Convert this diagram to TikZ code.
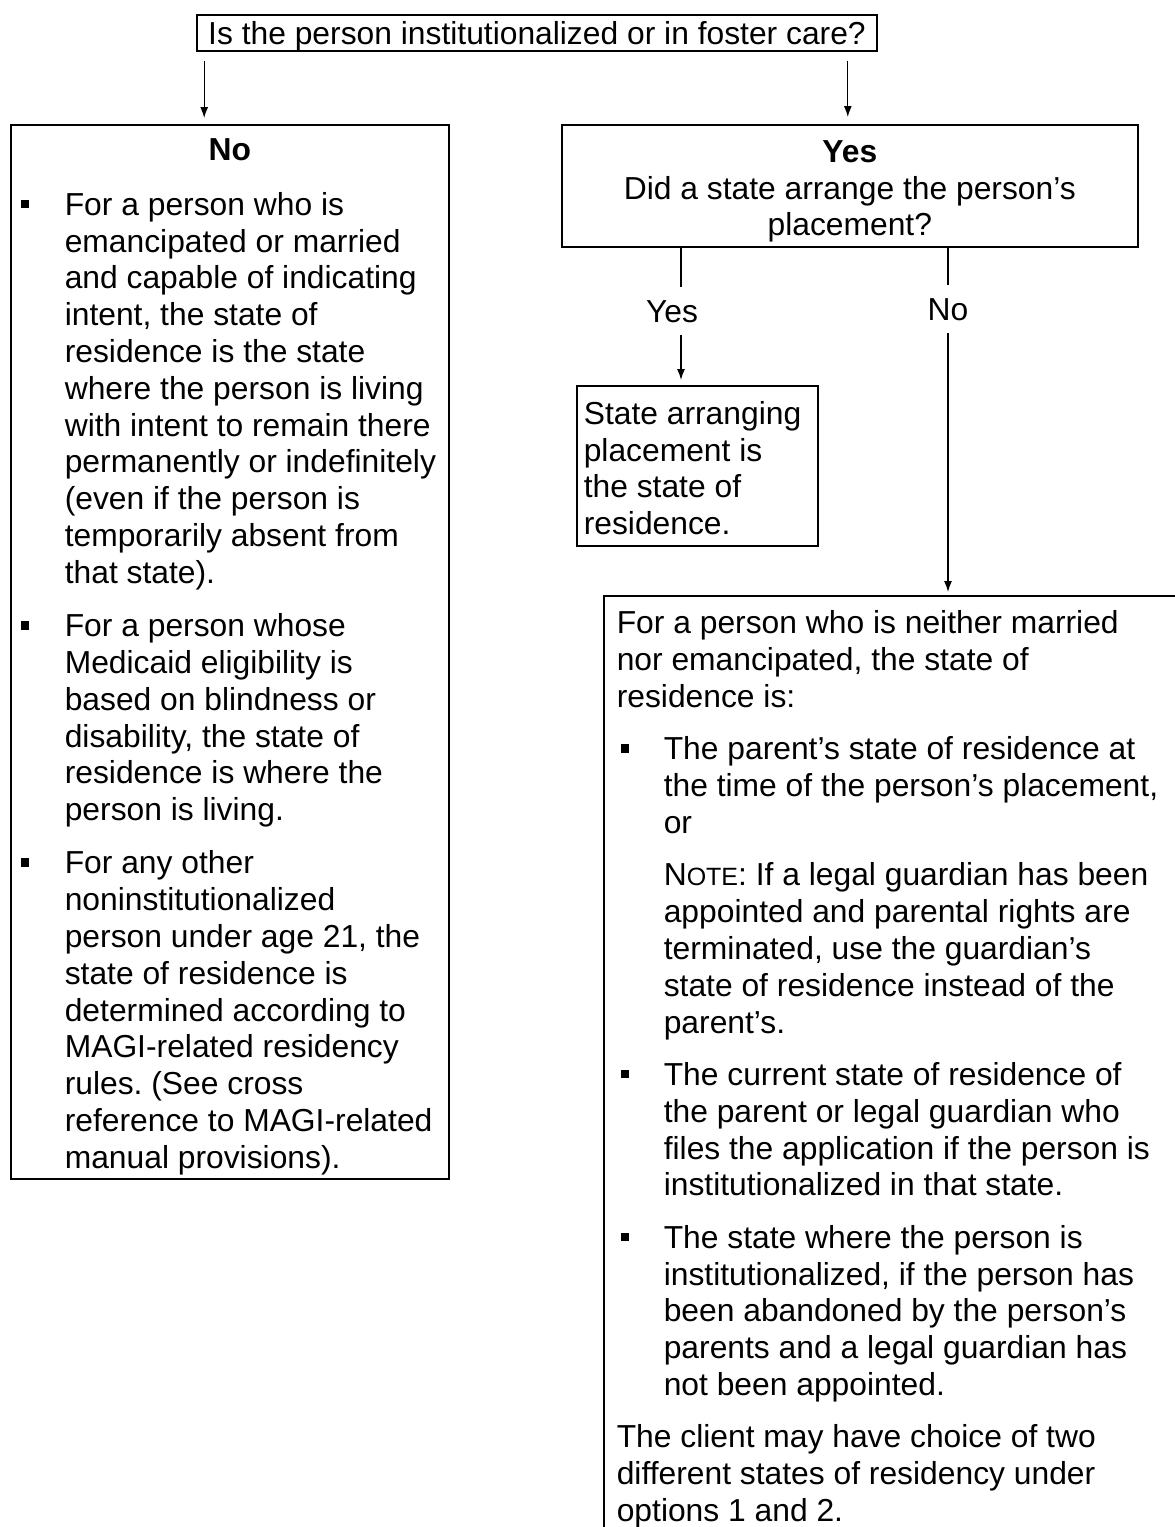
\documentclass[tikz,border=0pt]{standalone}
\usepackage{fontspec}
\setmainfont{Liberation Sans}
\usetikzlibrary{arrows.meta}
\frenchspacing
\newcommand\sqb{\rule[7pt]{8.5pt}{8.5pt}}
\newcommand\bitem[2]{\hangindent=#2\relax\hangafter=1\relax\noindent\makebox[#2][l]{\hspace*{#1}\sqb}\ignorespaces}
\newcommand\firstln[1]{\rule{0pt}{#1}}
\newcommand\nl{\newline}
\newcommand\bodyfont{\fontsize{31.8}{36.8}\selectfont\frenchspacing}
\newcommand\fakesc[1]{{\fontsize{25}{36.8}\selectfont #1}}
\tikzset{
  box/.style={draw, line width=1.6pt, inner ysep=0pt, anchor=north west},
  lbl/.style={inner xsep=2pt, inner ysep=9pt, text height=26.5pt, text depth=3.5pt},
  arr/.style={line width=1.3pt, -{Latex[length=11pt,width=8pt]}},
  ln/.style={line width=1.3pt},
}
\begin{document}
\begin{tikzpicture}[x=1pt,y=-1pt,font=\bodyfont]
\path[use as bounding box] (0,0) rectangle (1175,1527);
\clip (0,0) rectangle (1175,1527);

% question
\node[draw, line width=1.6pt, inner sep=0pt, minimum width=680pt, minimum height=36pt,
      text height=26.5pt, text depth=3.5pt] (q) at (537,33)
      {Is the person institutionalized or in foster care?};

% No box
\node[box, inner xsep=10pt] (no) at (10,124) {\parbox[c][1054pt][t]{418pt}{\bodyfont\parindent=0pt\rightskip=-16pt\relax
{\centering\bfseries\firstln{36pt}No\par}
\vspace{17.7pt}
\bitem{0pt}{44pt}For a person who is\nl emancipated or married\nl and capable of indicating\nl intent, the state of\nl residence is the state\nl where the person is living\nl with intent to remain there\nl permanently or indefinitely\nl (even if the person is\nl temporarily absent from\nl that state).\par
\vspace{16.5pt}
\bitem{0pt}{44pt}For a person whose\nl Medicaid eligibility is\nl based on blindness or\nl disability, the state of\nl residence is where the\nl person is living.\par
\vspace{16.5pt}
\bitem{0pt}{44pt}For any other\nl noninstitutionalized\nl person under age 21, the\nl state of residence is\nl determined according to\nl MAGI-related residency\nl rules. (See cross\nl reference to MAGI-related\nl manual provisions).\par}};

% Yes box
\node[box, inner xsep=0pt] (yesq) at (561,124) {\parbox[c][122pt][t]{576pt}{\bodyfont\centering
\firstln{37.5pt}\textbf{Yes}\\ Did a state arrange the person’s\\ placement?}};

% State arranging box
\node[box, inner xsep=7pt] (st) at (576,385) {\parbox[c][160pt][t]{227pt}{\bodyfont\parindent=0pt\rightskip=-16pt\relax
\firstln{38.5pt}State arranging\nl placement is\nl the state of\nl residence.\par}};

% Big right box
\node[box, inner xsep=13pt] (big) at (603,595) {\parbox[c][960pt][t]{560pt}{\bodyfont\parindent=0pt\rightskip=-16pt\relax
\firstln{38pt}For a person who is neither married\nl nor emancipated, the state of\nl residence is:\par
\vspace{15.6pt}
\bitem{4pt}{47pt}The parent’s state of residence at\nl the time of the person’s placement,\nl or\par
\vspace{15.6pt}
{\hangindent=47pt\hangafter=0\noindent N\fakesc{OTE}: If a legal guardian has been\nl appointed and parental rights are\nl terminated, use the guardian’s\nl state of residence instead of the\nl parent’s.\par}
\vspace{15.6pt}
\bitem{4pt}{47pt}The current state of residence of\nl the parent or legal guardian who\nl files the application if the person is\nl institutionalized in that state.\par
\vspace{15.6pt}
\bitem{4pt}{47pt}The state where the person is\nl institutionalized, if the person has\nl been abandoned by the person’s\nl parents and a legal guardian has\nl not been appointed.\par
\vspace{15.6pt}
The client may have choice of two\nl different states of residency under\nl options 1 and 2.\par}};

% connectors
\coordinate (qL) at ([xshift=8pt,yshift=-9pt]q.south west);
\coordinate (qR) at ([xshift=-30pt,yshift=-9pt]q.south east);
\draw[arr, shorten >=6pt] (qL) -- (qL |- no.north);
\draw[arr, shorten >=7pt] (qR) -- (qR |- yesq.north);

\node[lbl] (ylab) at (672,311) {Yes};
\node[lbl] (nlab) at (948,309) {No};
\coordinate (yb) at ([xshift=120pt]yesq.south west);
\coordinate (nb) at ([xshift=387pt]yesq.south west);
\draw[ln] (yb) -- (yb |- ylab.north);
\draw[arr, shorten >=5pt] (yb |- ylab.south) -- (yb |- st.north);
\draw[ln] (nb) -- (nb |- nlab.north);
\draw[arr, shorten >=3pt] (nb |- nlab.south) -- (nb |- big.north);
\end{tikzpicture}
\end{document}
